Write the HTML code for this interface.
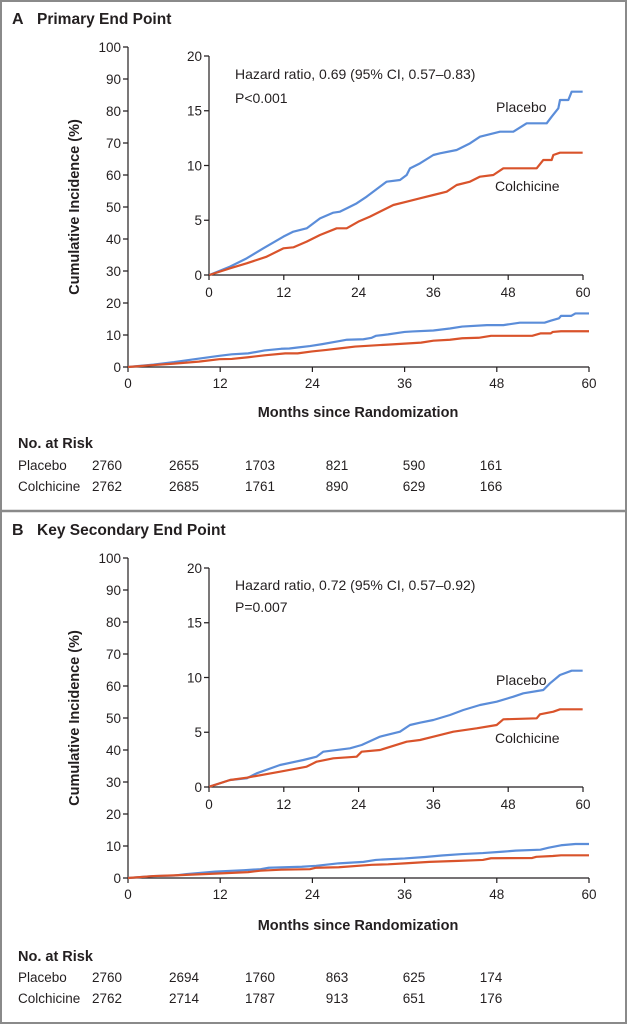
<!DOCTYPE html>
<html><head><meta charset="utf-8"><style>
html,body{margin:0;padding:0;background:#fff}
svg{display:block}
text{font-family:"Liberation Sans",sans-serif;fill:#231f20}
.t{font-size:13.5px}
.b{font-weight:bold}
.ax{stroke:#231f20;stroke-width:1.2;fill:none}
.pl{stroke:#5b8dd9;stroke-width:2.2;fill:none;stroke-linejoin:round}
.co{stroke:#d9532b;stroke-width:2.2;fill:none;stroke-linejoin:round}
</style></head><body>
<svg width="627" height="1024" viewBox="0 0 627 1024" xmlns="http://www.w3.org/2000/svg">
<rect x="1" y="1" width="625" height="1022" fill="none" stroke="#8a8a8a" stroke-width="2"/>
<line x1="0" y1="511" x2="627" y2="511" stroke="#8a8a8a" stroke-width="2.5"/>

<!-- PANEL A -->
<text x="12" y="24" class="b" font-size="16">A</text>
<text x="37" y="24" class="b" font-size="15.5">Primary End Point</text>
<text class="b" font-size="14.5" transform="translate(79,207) rotate(-90)" text-anchor="middle">Cumulative Incidence (%)</text>
<path class="ax" d="M128,47V367H589 M123,47H128 M123,79H128 M123,111H128 M123,143H128 M123,175H128 M123,207H128 M123,239H128 M123,271H128 M123,303H128 M123,335H128 M123,367H128 M128,367V372 M220.2,367V372 M312.4,367V372 M404.6,367V372 M496.8,367V372 M589,367V372"/>
<g class="t" text-anchor="end">
<text x="121" y="52">100</text><text x="121" y="84">90</text><text x="121" y="116">80</text><text x="121" y="148">70</text><text x="121" y="180">60</text><text x="121" y="212">50</text><text x="121" y="244">40</text><text x="121" y="276">30</text><text x="121" y="308">20</text><text x="121" y="340">10</text><text x="121" y="372">0</text>
</g>
<g class="t" text-anchor="middle">
<text x="128" y="388">0</text><text x="220.2" y="388">12</text><text x="312.4" y="388">24</text><text x="404.6" y="388">36</text><text x="496.8" y="388">48</text><text x="589" y="388">60</text>
</g>
<g transform="translate(128,367) scale(0.41161,0.09741) translate(-88,-705)">
<polyline class="pl" vector-effect="non-scaling-stroke" points="88,705 150,680 200,655 250,625 310,590 340,575 380,565 420,535 460,518 480,515 500,505 530,490 560,470 600,440 620,425 660,420 680,405 690,385 720,370 760,345 780,340 830,330 870,310 900,290 960,275 1000,275 1040,250 1100,250 1115,230 1135,205 1140,180 1165,180 1175,155 1208,155"/>
<polyline class="co" vector-effect="non-scaling-stroke" points="88,705 150,685 200,670 260,650 310,625 340,622 380,605 420,585 470,565 500,565 535,545 570,530 600,515 640,495 680,485 720,475 760,465 800,455 830,435 870,425 900,410 940,405 970,385 1070,385 1090,360 1115,360 1120,345 1140,338 1208,338"/>
</g>
<text x="358" y="417" class="b" font-size="14.5" text-anchor="middle">Months since Randomization</text>
<path class="ax" d="M209,56V275H583 M204,56H209 M204,110.75H209 M204,165.5H209 M204,220.25H209 M204,275H209 M209,275V280 M283.8,275V280 M358.6,275V280 M433.4,275V280 M508.2,275V280 M583,275V280"/>
<g class="t" text-anchor="end">
<text x="202" y="61">20</text><text x="202" y="115.5">15</text><text x="202" y="170.5">10</text><text x="202" y="225">5</text><text x="202" y="280">0</text>
</g>
<g class="t" text-anchor="middle">
<text x="209" y="297">0</text><text x="283.8" y="297">12</text><text x="358.6" y="297">24</text><text x="433.4" y="297">36</text><text x="508.2" y="297">48</text><text x="583" y="297">60</text>
</g>
<g transform="translate(180,40) scale(0.33333)">
<polyline class="pl" vector-effect="non-scaling-stroke" points="88,705 150,680 200,655 250,625 310,590 340,575 380,565 420,535 460,518 480,515 500,505 530,490 560,470 600,440 620,425 660,420 680,405 690,385 720,370 760,345 780,340 830,330 870,310 900,290 960,275 1000,275 1040,250 1100,250 1115,230 1135,205 1140,180 1165,180 1175,155 1208,155"/>
<polyline class="co" vector-effect="non-scaling-stroke" points="88,705 150,685 200,670 260,650 310,625 340,622 380,605 420,585 470,565 500,565 535,545 570,530 600,515 640,495 680,485 720,475 760,465 800,455 830,435 870,425 900,410 940,405 970,385 1070,385 1090,360 1115,360 1120,345 1140,338 1208,338"/>
</g>
<text x="235" y="79" font-size="14">Hazard ratio, 0.69 (95% CI, 0.57–0.83)</text>
<text x="235" y="103" font-size="14">P&lt;0.001</text>
<text x="496" y="112" font-size="14">Placebo</text>
<text x="495" y="191" font-size="14">Colchicine</text>
<text x="18" y="448" class="b" font-size="14.5">No. at Risk</text>
<g class="t">
<text x="18" y="470">Placebo</text><text x="18" y="491">Colchicine</text>
</g>
<g class="t" text-anchor="middle">
<text x="107" y="470">2760</text><text x="184" y="470">2655</text><text x="260" y="470">1703</text><text x="337" y="470">821</text><text x="414" y="470">590</text><text x="491" y="470">161</text>
<text x="107" y="491">2762</text><text x="184" y="491">2685</text><text x="260" y="491">1761</text><text x="337" y="491">890</text><text x="414" y="491">629</text><text x="491" y="491">166</text>
</g>

<!-- PANEL B -->
<text x="12" y="535" class="b" font-size="16">B</text>
<text x="37" y="535" class="b" font-size="15.5">Key Secondary End Point</text>
<text class="b" font-size="14.5" transform="translate(79,718) rotate(-90)" text-anchor="middle">Cumulative Incidence (%)</text>
<path class="ax" d="M128,558V878H589 M123,558H128 M123,590H128 M123,622H128 M123,654H128 M123,686H128 M123,718H128 M123,750H128 M123,782H128 M123,814H128 M123,846H128 M123,878H128 M128,878V883 M220.2,878V883 M312.4,878V883 M404.6,878V883 M496.8,878V883 M589,878V883"/>
<g class="t" text-anchor="end">
<text x="121" y="563">100</text><text x="121" y="595">90</text><text x="121" y="627">80</text><text x="121" y="659">70</text><text x="121" y="691">60</text><text x="121" y="723">50</text><text x="121" y="755">40</text><text x="121" y="787">30</text><text x="121" y="819">20</text><text x="121" y="851">10</text><text x="121" y="883">0</text>
</g>
<g class="t" text-anchor="middle">
<text x="128" y="899">0</text><text x="220.2" y="899">12</text><text x="312.4" y="899">24</text><text x="404.6" y="899">36</text><text x="496.8" y="899">48</text><text x="589" y="899">60</text>
</g>
<g transform="translate(128,878) scale(0.41161,0.09771) translate(-88,-710)">
<polyline class="pl" vector-effect="non-scaling-stroke" points="88,710 150,690 200,685 230,670 300,645 370,630 410,620 430,605 510,595 545,585 600,560 660,545 690,525 720,518 760,510 810,495 850,480 900,465 950,455 1000,440 1030,430 1090,420 1110,400 1140,375 1175,362 1208,362"/>
<polyline class="co" vector-effect="non-scaling-stroke" points="88,710 150,690 200,683 300,665 380,650 410,635 460,625 530,620 545,605 600,600 680,575 720,570 760,560 820,545 890,535 950,525 970,508 1070,505 1080,493 1120,485 1140,478 1208,478"/>
</g>
<text x="358" y="930" class="b" font-size="14.5" text-anchor="middle">Months since Randomization</text>
<path class="ax" d="M209,568V787H583 M204,568H209 M204,622.75H209 M204,677.5H209 M204,732.25H209 M204,787H209 M209,787V792 M283.8,787V792 M358.6,787V792 M433.4,787V792 M508.2,787V792 M583,787V792"/>
<g class="t" text-anchor="end">
<text x="202" y="573">20</text><text x="202" y="627.5">15</text><text x="202" y="682.5">10</text><text x="202" y="737">5</text><text x="202" y="792">0</text>
</g>
<g class="t" text-anchor="middle">
<text x="209" y="809">0</text><text x="283.8" y="809">12</text><text x="358.6" y="809">24</text><text x="433.4" y="809">36</text><text x="508.2" y="809">48</text><text x="583" y="809">60</text>
</g>
<g transform="translate(180,550) scale(0.33333)">
<polyline class="pl" vector-effect="non-scaling-stroke" points="88,710 150,690 200,685 230,670 300,645 370,630 410,620 430,605 510,595 545,585 600,560 660,545 690,525 720,518 760,510 810,495 850,480 900,465 950,455 1000,440 1030,430 1090,420 1110,400 1140,375 1175,362 1208,362"/>
<polyline class="co" vector-effect="non-scaling-stroke" points="88,710 150,690 200,683 300,665 380,650 410,635 460,625 530,620 545,605 600,600 680,575 720,570 760,560 820,545 890,535 950,525 970,508 1070,505 1080,493 1120,485 1140,478 1208,478"/>
</g>
<text x="235" y="590" font-size="14">Hazard ratio, 0.72 (95% CI, 0.57–0.92)</text>
<text x="235" y="612" font-size="14">P=0.007</text>
<text x="496" y="685" font-size="14">Placebo</text>
<text x="495" y="743" font-size="14">Colchicine</text>
<text x="18" y="961" class="b" font-size="14.5">No. at Risk</text>
<g class="t">
<text x="18" y="982">Placebo</text><text x="18" y="1003">Colchicine</text>
</g>
<g class="t" text-anchor="middle">
<text x="107" y="982">2760</text><text x="184" y="982">2694</text><text x="260" y="982">1760</text><text x="337" y="982">863</text><text x="414" y="982">625</text><text x="491" y="982">174</text>
<text x="107" y="1003">2762</text><text x="184" y="1003">2714</text><text x="260" y="1003">1787</text><text x="337" y="1003">913</text><text x="414" y="1003">651</text><text x="491" y="1003">176</text>
</g>
</svg>
</body></html>
